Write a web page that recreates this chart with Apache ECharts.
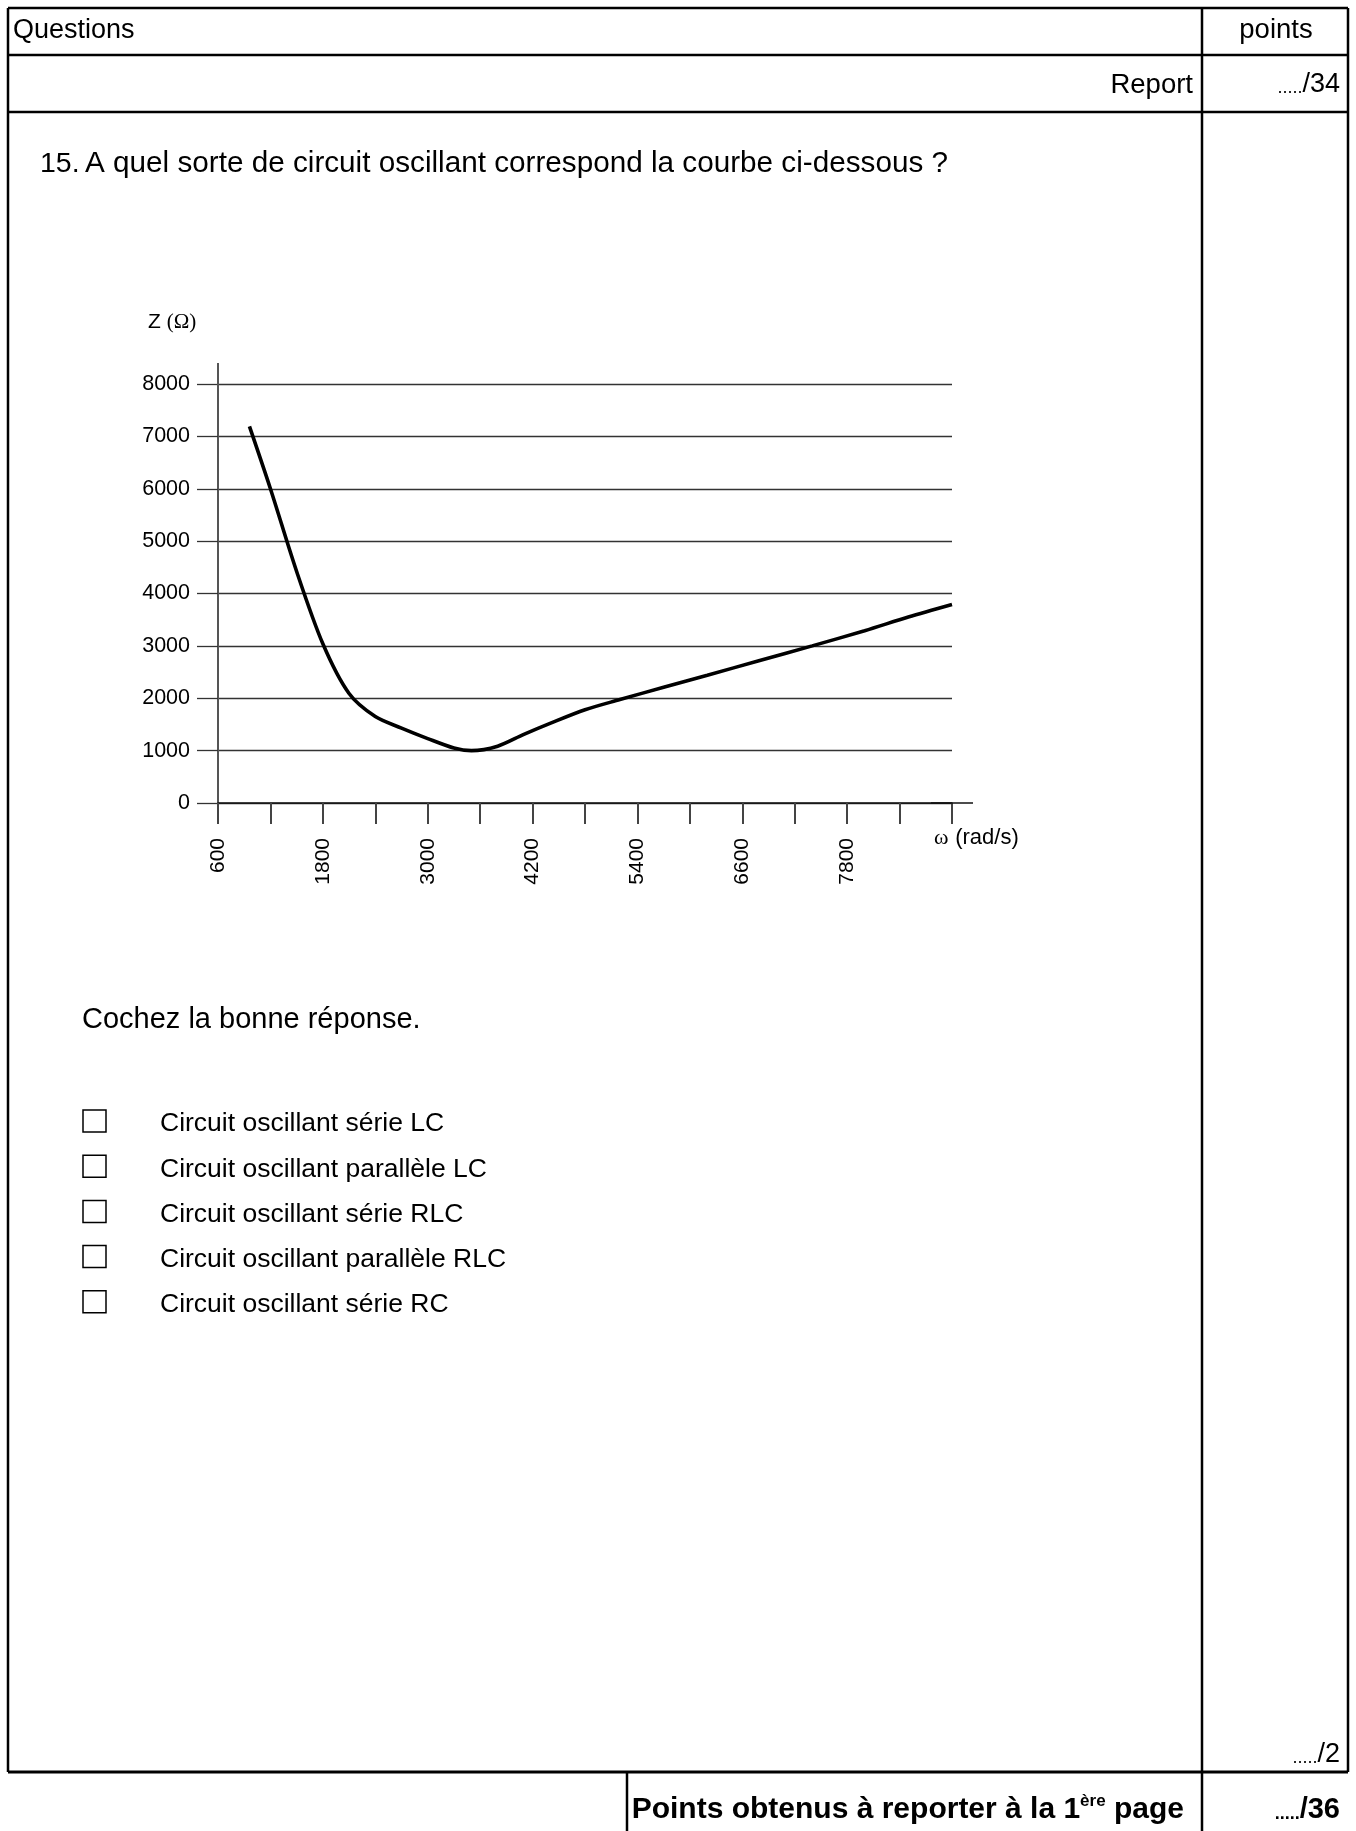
<!DOCTYPE html>
<html>
<head>
<meta charset="utf-8">
<script src="https://cdn.jsdelivr.net/npm/echarts@6/dist/echarts.min.js"></script>
<style>
  html, body { margin: 0; padding: 0; background: #fff; }
  #page { width: 1356px; height: 1831px; }
</style>
</head>
<body>
<div id="page"></div>
<script>
// Impedance of the oscillating circuit versus angular frequency
const omega = [960, 1200, 1500, 1800, 2100, 2400, 2700, 3000, 3300, 3500, 3800, 4100, 4400, 4800, 5200, 5700, 6200, 6800, 7400, 8000, 8500, 9000];
const impedance = [7190, 6000, 4420, 3040, 2090, 1650, 1430, 1230, 1050, 1000, 1085, 1310, 1520, 1780, 1975, 2210, 2440, 2720, 3000, 3290, 3550, 3790];

// Axis ranges and the ticks that carry a label
const omegaMin = 600, omegaMax = 9000, omegaStep = 600;
const zMin = 0, zMax = 8000, zStep = 1000;
const omegaLabelled = [600, 1800, 3000, 4200, 5400, 6600, 7800];

// Answer choices
const answers = [
  'Circuit oscillant série LC',
  'Circuit oscillant parallèle LC',
  'Circuit oscillant série RLC',
  'Circuit oscillant parallèle RLC',
  'Circuit oscillant série RC'
];

const SANS = '"Liberation Sans", Arial, Helvetica, sans-serif';
const SERIF = '"Liberation Serif", "Times New Roman", serif';

const chart = echarts.init(document.getElementById('page'), null, { renderer: 'canvas' });

function rule(x1, y1, x2, y2, w) {
  return { type: 'line', silent: true, shape: { x1, y1, x2, y2 }, style: { stroke: '#000', lineWidth: w || 2 } };
}
function label(text, x, y, size, align, weight) {
  return {
    type: 'text', silent: true,
    style: { text, x, y, fill: '#000', align: align || 'left', verticalAlign: 'middle',
             font: (weight || 'normal') + ' ' + size + 'px ' + SANS }
  };
}
// score field: compact dots followed by the maximum
function score(max, x, y, size, weight) {
  const w = weight || 'normal';
  return {
    type: 'text', silent: true,
    style: {
      x, y, align: 'right', verticalAlign: 'middle',
      text: '{d|.....}{n|' + max + '}',
      rich: {
        d: { fontFamily: SANS, fontWeight: w, fontSize: 18, fill: '#000', lineHeight: size, verticalAlign: 'bottom', padding: [0, 0, 1, 0] },
        n: { fontFamily: SANS, fontWeight: w, fontSize: size, fill: '#000', lineHeight: size, verticalAlign: 'bottom' }
      }
    }
  };
}

const graphics = [
  // page frame
  rule(8, 8, 1348, 8, 2.5),
  rule(8, 8, 8, 1772, 2.5),
  rule(1348, 8, 1348, 1772, 2.5),
  rule(1202, 8, 1202, 1831, 2.5),
  rule(8, 55, 1348, 55, 2.5),
  rule(8, 112, 1348, 112, 2.5),
  rule(8, 1772, 1348, 1772, 3),
  rule(627, 1772, 627, 1831, 2.5),
  // header
  label('Questions', 13, 31, 27),
  label('points', 1276, 30, 27.5, 'center'),
  label('Report', 1193, 85, 27.5, 'right'),
  score('/34', 1340, 85, 27),
  // question
  label('15.', 40, 164, 28.5),
  label('A quel sorte de circuit oscillant correspond la courbe ci-dessous ?', 85, 164, 29.7),
  // axis captions
  {
    type: 'text', silent: true,
    style: {
      x: 148, y: 322, verticalAlign: 'middle', align: 'left',
      text: '{a|Z }{b|(Ω)}',
      rich: {
        a: { fontFamily: SANS, fontSize: 21, fill: '#000' },
        b: { fontFamily: SERIF, fontSize: 21, fill: '#000' }
      }
    }
  },
  {
    type: 'text', silent: true,
    style: {
      x: 934, y: 838, verticalAlign: 'middle', align: 'left',
      text: '{b|ω}  {a|(rad/s)}',
      rich: {
        a: { fontFamily: SANS, fontSize: 22, fill: '#000' },
        b: { fontFamily: SERIF, fontSize: 22, fill: '#000' }
      }
    }
  },
  label('Cochez la bonne réponse.', 82, 1020, 29),
  // footer
  score('/2', 1340, 1755, 27),
  {
    type: 'text', silent: true,
    style: {
      x: 1184, y: 1810, verticalAlign: 'middle', align: 'right',
      text: '{a|Points obtenus à reporter à la 1}{s|ère}{a| page}',
      rich: {
        a: { fontFamily: SANS, fontWeight: 'bold', fontSize: 30, fill: '#000', lineHeight: 34 },
        s: { fontFamily: SANS, fontWeight: 'bold', fontSize: 17, fill: '#000', verticalAlign: 'top', lineHeight: 34, padding: [0, 0, 12, 0] }
      }
    }
  },
  score('/36', 1340, 1810, 29, 'bold')
];

answers.forEach(function (txt, i) {
  const cy = 1121 + i * 45.2;
  graphics.push({
    type: 'rect', silent: true,
    shape: { x: 83, y: cy - 11, width: 23, height: 22 },
    style: { fill: 'none', stroke: '#000', lineWidth: 1.5 }
  });
  graphics.push(label(txt, 160, cy + 3, 26.5));
});

chart.setOption({
  backgroundColor: '#fff',
  animation: false,
  grid: { left: 218, top: 384, width: 734, height: 419, containLabel: false },
  xAxis: {
    type: 'value',
    min: omegaMin, max: omegaMax, interval: omegaStep,
    axisLine: {
      onZero: false,
      lineStyle: { color: '#111', width: 1.5 },
      symbol: ['none', 'rect'], symbolSize: [1.5, 42]
    },
    axisTick: { show: true, length: 21, lineStyle: { color: '#444', width: 2 } },
    axisLabel: {
      rotate: 90, margin: 35,
      fontFamily: SANS, fontSize: 21, color: '#000',
      formatter: function (v) { return omegaLabelled.indexOf(v) >= 0 ? String(v) : ''; }
    },
    splitLine: { show: false }
  },
  yAxis: {
    type: 'value',
    min: zMin, max: zMax, interval: zStep,
    axisLine: {
      show: true, onZero: false,
      lineStyle: { color: '#555', width: 2 },
      symbol: ['none', 'rect'], symbolSize: [2, 42]
    },
    axisTick: { show: true, length: 21, lineStyle: { color: '#333', width: 1.3 } },
    axisLabel: {
      margin: 28, fontFamily: SANS, fontSize: 21.5, color: '#000',
      formatter: function (v) { return String(v); }
    },
    splitLine: { show: true, lineStyle: { color: '#333', width: 1.3 } }
  },
  series: [{
    type: 'line',
    data: omega.map(function (w, i) { return [w, impedance[i]]; }),
    smooth: 0.3,
    showSymbol: false,
    lineStyle: { color: '#000', width: 3.6 },
    z: 5
  }],
  graphic: graphics
});
</script>
</body>
</html>
